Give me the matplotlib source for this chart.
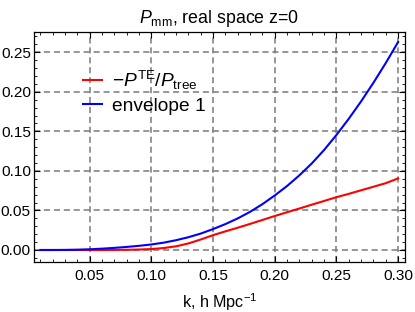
import numpy as np
import matplotlib
matplotlib.use("Agg")
from matplotlib import pyplot as plt
from matplotlib.ticker import MultipleLocator, FormatStrFormatter

# k values (h/Mpc)
k_vals = [0.01, 0.02, 0.03, 0.04, 0.05, 0.06, 0.07, 0.08, 0.09, 0.10,
          0.11, 0.12, 0.13, 0.14, 0.15, 0.16, 0.17, 0.18, 0.19, 0.20,
          0.21, 0.22, 0.23, 0.24, 0.25, 0.26, 0.27, 0.28, 0.29, 0.30]

# -P^TE / P_tree
ratio_te = [0.0, 0.0, 0.0, 0.0, 0.0, 0.0, 0.0001, 0.0003, 0.0006, 0.0012,
            0.0025, 0.0047, 0.0083, 0.0133, 0.0188, 0.0236, 0.0282, 0.0330, 0.0380, 0.0430,
            0.0478, 0.0525, 0.0573, 0.0620, 0.0668, 0.0710, 0.0755, 0.0800, 0.0845, 0.0905]

# envelope 1
envelope = [0.0, 0.0, 0.0001, 0.0004, 0.0009, 0.0017, 0.0027, 0.0039, 0.0053, 0.0070,
            0.0093, 0.0124, 0.0162, 0.0208, 0.0265, 0.0328, 0.0400, 0.0483, 0.0580, 0.0690,
            0.0810, 0.0945, 0.1095, 0.1265, 0.1455, 0.1660, 0.1880, 0.2115, 0.2365, 0.2630]

series_labels = [r"$-P^{\rm TE}/P_{\rm tree}$", "envelope 1"]
title_text = r"$P_{\rm mm}$, real space z=0"
xlabel_text = r"k, h Mpc$^{-1}$"

plt.rcParams['font.family'] = ['Liberation Sans', 'DejaVu Sans']
plt.rcParams['mathtext.fontset'] = 'custom'
plt.rcParams['mathtext.rm'] = 'Liberation Sans'
plt.rcParams['mathtext.it'] = 'Liberation Sans:italic'

fig = plt.figure(figsize=(4.15, 3.12), dpi=100)
ax = fig.add_axes([0.0812, 0.1612, 0.8945, 0.7372])

ax.plot(k_vals, ratio_te, color='#ff0000', lw=1.5, label=series_labels[0])
ax.plot(k_vals, envelope, color='#0000ff', lw=1.5, label=series_labels[1])

# Mathematica-like frame ticks
ax.xaxis.set_major_locator(MultipleLocator(0.05))
ax.xaxis.set_minor_locator(MultipleLocator(0.01))
ax.yaxis.set_major_locator(MultipleLocator(0.05))
ax.yaxis.set_minor_locator(MultipleLocator(0.01))
ax.yaxis.set_major_formatter(FormatStrFormatter('%.2f'))
ax.tick_params(which='both', direction='in', top=True, right=True, labelsize=11.1)
ax.tick_params(which='major', length=4.5, width=0.8)
ax.tick_params(which='minor', length=2.5, width=0.6)
ax.tick_params(axis='x', pad=5)
ax.tick_params(axis='y', pad=2)
xt = [0.0, 0.05, 0.10, 0.15, 0.20, 0.25, 0.30]
ax.set_xticks(xt)
ax.set_xticklabels(['' if t < 0.04 else '%.2f' % t for t in xt])
ax.set_xlim(0.0045, 0.3055)
ax.set_ylim(-0.0148, 0.276)

ax.grid(True, which='major', color='#7a7a7a', ls=(0, (4, 2.5)), lw=1.1)
for s in ax.spines.values():
    s.set_linewidth(0.9)

ax.set_title(title_text, fontsize=12.8, pad=6)
ax.set_xlabel(xlabel_text, fontsize=11.6, labelpad=6)

ax.legend(loc='center left', bbox_to_anchor=(0.133, 0.738), frameon=False,
          fontsize=13.8, handlelength=1.0, handletextpad=0.5, borderpad=0,
          borderaxespad=0, labelspacing=0.3)

fig.savefig('out.png', dpi=100)
